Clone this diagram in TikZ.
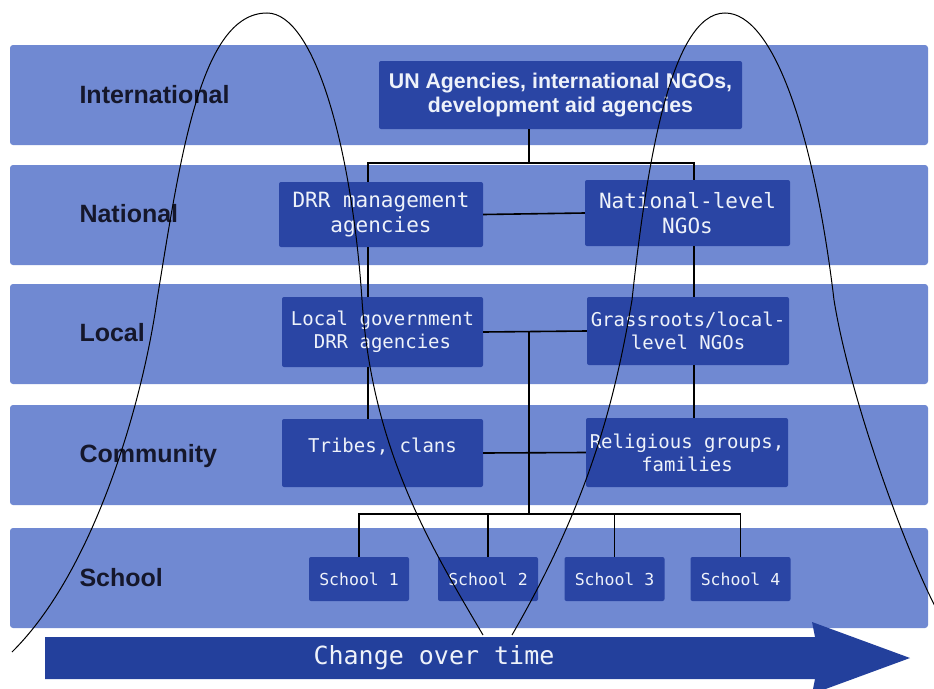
\documentclass[tikz,border=0pt]{standalone}
\usepackage{fontspec}
\setmainfont{Liberation Sans}
\setmonofont{DejaVu Sans Mono}

\definecolor{bandblue}{HTML}{7089D2}
\definecolor{boxblue}{HTML}{2A45A4}
\definecolor{arrowblue}{HTML}{23409C}
\definecolor{inkdark}{HTML}{15172B}
\definecolor{boxtext}{HTML}{EEF2FA}

\begin{document}
\begin{tikzpicture}[x=1pt, y=-1pt,
  band/.style={fill=bandblue, rounded corners=3pt},
  level/.style={anchor=base west, text=inkdark, font=\bfseries\fontsize{25}{30}\selectfont},
  unit/.style={fill=boxblue, text=boxtext, rounded corners=2pt, align=center, inner sep=0pt,
    font=\ttfamily\fontsize{19}{23}\selectfont},
  school/.style={unit, minimum width=100, minimum height=44, font=\ttfamily\fontsize{16.5}{20}\selectfont},
  link/.style={line width=1.6pt, black},
  wave/.style={line width=1pt, black}]

\useasboundingbox (0,0) rectangle (934,688);
\clip (0,0) rectangle (934,688);
\fill[white] (0,0) rectangle (934,688);

% the five levels
\foreach \y in {45,165,284,405,528}
  \fill[band] (10,\y) rectangle (928,\y+100);

\node[level] (intl) at (76,103) {International};
\node[level] (natl) at (76,222) {National};
\node[level] (locl) at (76,341) {Local};
\node[level] (comm) at (76,462) {Community};
\node[level] (schl) at (76,586) {School};

% actors
\node[unit, minimum width=363, minimum height=68, font=\bfseries\fontsize{21.3}{24}\selectfont] (un) at (560.5,95)
  {UN Agencies, international NGOs,\\development aid agencies};
\node[unit, minimum width=204, minimum height=65, font=\ttfamily\fontsize{21}{25}\selectfont] (drr) at (381,214.5)
  {DRR management\\agencies};
\node[unit, minimum width=205, minimum height=66, font=\ttfamily\fontsize{21}{25}\selectfont] (natngo) at (687.5,213)
  {National-level\\NGOs};
\node[unit, minimum width=201, minimum height=70] (localgov) at (382.5,332) {Local government\\DRR agencies};
\node[unit, minimum width=202, minimum height=68] (grass) at (688,331) {Grassroots/local-\\level NGOs};
\node[unit, minimum width=201, minimum height=68] (tribes) at (382.5,453) {\raisebox{16pt}{Tribes, clans}};
\node[unit, minimum width=202, minimum height=69] (relig) at (687,452.5) {Religious groups,\\families};

\foreach \n/\x in {1/359,2/488,3/614.5,4/740.5}
  \node[school] (s\n) at (\x,579) {School \n};

% links between actors
\coordinate (split) at (529,163);
\coordinate (lspine) at (368,163);
\coordinate (rspine) at (694,163);
\coordinate (hub) at (529,514);

\draw[link] (un.south -| split) -- (split);
\draw[link] (lspine |- drr.north) -- (lspine) -- (rspine) -- (rspine |- natngo.north);
\draw[link] (drr.east) -- (natngo.west);
\draw[link] (drr.south -| lspine) -- (localgov.north -| lspine);
\draw[link] (localgov.south -| lspine) -- (tribes.north -| lspine);
\draw[link] (natngo.south -| rspine) -- (grass.north -| rspine);
\draw[link] (grass.south -| rspine) -- (relig.north -| rspine);
\draw[link] (localgov.east) -- (grass.west);
\draw[link] (tribes.east) -- (relig.west);
\draw[link] (hub |- localgov.east) -- (hub);
\draw[link] (s1.north) |- (hub) -| (s4.north);
\draw[link] (s2.north) -- (s2.north |- hub);
\draw[link] (s3.north) -- (s3.north |- hub);

% time arrow
\fill[arrowblue] (45,637) -- (815,637) -- (812,622) -- (910,658) -- (812,694) -- (815,679) -- (45,679) -- cycle;
\node[text=boxtext, font=\ttfamily\fontsize{25}{30}\selectfont] (change) at (434,658) {Change over time};

% the two waves
\draw[wave] (12,652) .. controls (95,570) and (143,400) .. (157,300)
  .. controls (180,160) and (200,13) .. (267,13)
  .. controls (315,13) and (352,150) .. (362,300)
  .. controls (372,450) and (430,545) .. (483,635);
\draw[wave] (512,635) .. controls (590,500) and (615,400) .. (632,300)
  .. controls (646,170) and (670,13) .. (725,13)
  .. controls (775,13) and (815,140) .. (834,300)
  .. controls (850,400) and (910,565) .. (945,625);
\end{tikzpicture}
\end{document}
